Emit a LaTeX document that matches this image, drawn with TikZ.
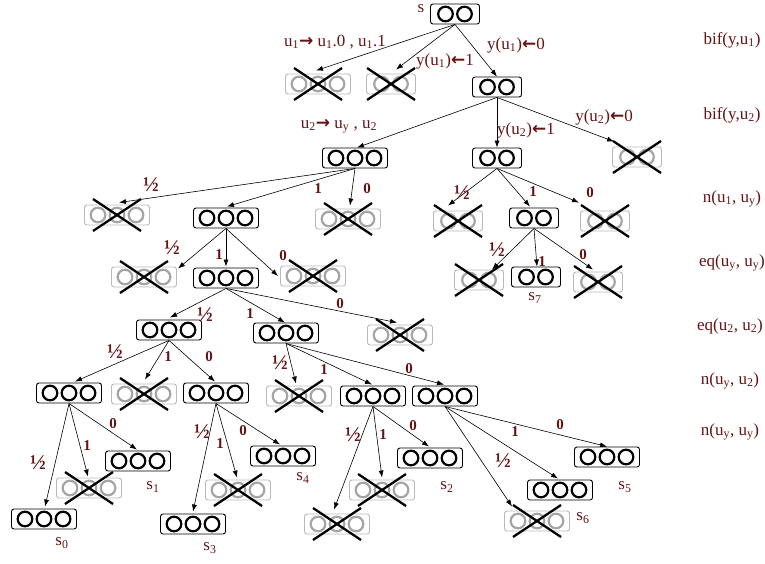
\documentclass[tikz,border=0pt]{standalone}
\usepackage{fontspec}
\setmainfont{Liberation Serif}
\newfontfamily\arrfont{DejaVu Sans}
\usetikzlibrary{arrows.meta,calc}
\definecolor{labred}{RGB}{100,20,20}
\definecolor{boxgray}{RGB}{185,185,185}
\definecolor{ringgray}{RGB}{165,165,165}
\pgfdeclarelayer{bg}
\pgfsetlayers{bg,main}
\tikzset{
  box/.style={rectangle, rounded corners=2.5pt, minimum height=20pt, inner sep=0pt, line width=0.9pt, fill=white},
  box2/.style={box, minimum width=49pt},
  box3/.style={box, minimum width=65pt},
  on/.style={draw=black},
  off/.style={draw=boxgray},
  ringon/.style={line width=2.2pt, draw=black},
  ringoff/.style={line width=2.2pt, draw=ringgray},
  cross/.style={line width=2.3pt, draw=black},
  arr/.style={-{Latex[length=7pt,width=5pt]}, line width=0.6pt},
  lab/.style={text=labred, font=\fontsize{17}{19}\selectfont, inner sep=0pt},
  prob/.style={text=labred, font=\bfseries\fontsize{15}{17}\selectfont, inner sep=0pt},
  half/.style={text=labred, font=\bfseries\fontsize{21}{23}\selectfont, inner sep=0pt},
}
\newcommand\mkst[4]{% name, pos, n, on/off
  \node[box#3,#4] (#1) at (#2) {};
  \ifnum#3=3\relax\def\offs{-19,0,19}\else\def\offs{-9.5,9.5}\fi
  \foreach \dx in \offs {\draw[ring#4] ($(#1.center)+(\dx,0)$) circle[radius=7.3pt];}
}
\newcommand\offst[3]{\mkst{#1}{#2}{#3}{off}%
  \draw[cross] ($(#1.center)+(-24,-16)$) -- ($(#1.center)+(24,16)$)
               ($(#1.center)+(-24,16)$) -- ($(#1.center)+(24,-16)$);}
\newcommand\onst[3]{\mkst{#1}{#2}{#3}{on}}
\newcommand\edge[3]{\draw[arr] (#1.south) -- ($(#2.north)+(#3)$);}
\newcommand\ra{{\arrfont\bfseries →}}
\newcommand\la{{\arrfont\bfseries ←}}
\newcommand\sub[1]{\textsubscript{#1}}
\begin{document}
\begin{tikzpicture}[x=1pt,y=-1pt]
\useasboundingbox (0,0) rectangle (765,563);
% crossed-out states
\offst{nX1}{318,84}{3}
\offst{nX2}{391,84}{2}
\offst{nD}{637,157}{2}
\offst{nE}{117,215}{3}
\offst{nG}{348,219}{3}
\offst{nK}{458,221}{2}
\offst{nM}{605,221}{2}
\offst{nH}{144,277}{3}
\offst{nJ}{313,276}{3}
\offst{nN}{479,280}{2}
\offst{nO}{598,282}{2}
\offst{nR}{400,335}{3}
\offst{nT}{144,394}{3}
\offst{nV}{299,396}{3}
\offst{nY}{89,488}{3}
\offst{nZ}{238,490}{3}
\offst{nAA}{337,524}{3}
\offst{nBB}{382,490}{3}
\offst{nCC}{537,521}{3}
% active states
\onst{nroot}{455,14}{2}
\onst{nA}{497,87}{2}
\onst{nB}{355,158}{3}
\onst{nC}{497,158}{2}
\onst{nF}{226,218}{3}
\onst{nL}{534,218}{2}
\onst{nI}{226,278}{3}
\onst{ns7}{536,277}{2}
\onst{nP}{169,330}{3}
\onst{nQ}{286,333}{3}
\onst{nS}{69,393}{3}
\onst{nU}{216,393}{3}
\onst{nW}{373,396}{3}
\onst{nXX}{445,396}{3}
\onst{ns0}{44,519}{3}
\onst{ns1}{138,461}{3}
\onst{ns3}{193,524}{3}
\onst{ns4}{283,456}{3}
\onst{ns2}{430,458}{3}
\onst{ns6}{560,490}{3}
\onst{ns5}{607,457}{3}
% edges
\begin{pgfonlayer}{bg}
\edge{nroot}{nX1}{-2,-3}
\edge{nroot}{nX2}{5,-4}
\edge{nroot}{nA}{0,0}
\edge{nA}{nB}{2,0}
\edge{nA}{nC}{0,0}
\edge{nA}{nD}{-23,-5}
\edge{nB}{nE}{2,-2}
\edge{nB}{nF}{1,-1}
\edge{nB}{nG}{2,-3}
\edge{nC}{nK}{-10,-5}
\edge{nC}{nL}{-4,-1}
\edge{nC}{nM}{-26,-8}
\edge{nF}{nH}{34,2}
\edge{nF}{nI}{0,-1}
\draw[arr] (nF.south) -- ($(nJ.west)+(-2,0)$);
\edge{nL}{nN}{13,0}
\edge{nL}{ns7}{1,0}
\edge{nL}{nO}{-5,-2}
\edge{nI}{nP}{1,-2}
\edge{nI}{nQ}{-1,0}
\edge{nI}{nR}{-3,-2}
\edge{nP}{nS}{6,-1}
\edge{nP}{nT}{1,-4}
\edge{nP}{nU}{-1,-1}
\edge{nQ}{nV}{-3,-2}
\edge{nQ}{nW}{-1,-1}
\edge{nQ}{nXX}{-1,-1}
\edge{nS}{ns0}{1,-2}
\edge{nS}{nY}{-1,-1}
\edge{nS}{ns1}{-1,-1}
\edge{nU}{ns3}{0,-2}
\edge{nU}{nZ}{-1,-2}
\edge{nU}{ns4}{-3,-1}
\edge{nW}{nAA}{-3,-4}
\edge{nW}{nBB}{0,-2}
\edge{nW}{ns2}{-1,-1}
\edge{nXX}{nCC}{-25,-4}
\edge{nXX}{ns6}{-2,-1}
\edge{nXX}{ns5}{0,0}
\end{pgfonlayer}
% edge labels
\node[lab] (t1) at (335,42) {u\sub{1}\ra{} u\sub{1}.0 , u\sub{1}.1};
\node[lab] (t2) at (445,61) {y(u\sub{1})\la1};
\node[lab] (t3) at (516,45) {y(u\sub{1})\la0};
\node[lab] (t4) at (339,126) {u\sub{2}\ra{} u\sub{y} , u\sub{2}};
\node[lab] (t5) at (526,130) {y(u\sub{2})\la1};
\node[lab] (t6) at (604,117) {y(u\sub{2})\la0};
% probabilities
\node[half] (p1) at (151,185) {½};
\node[prob] (p2) at (318,189) {1};
\node[prob] (p3) at (367,189) {0};
\node[half] (p4) at (172,248) {½};
\node[prob] (p5) at (219,255) {1};
\node[prob] (p6) at (283,256) {0};
\node[half] (p7) at (462,193) {½};
\node[prob] (p8) at (533,192) {1};
\node[prob] (p9) at (590,193) {0};
\node[half] (p10) at (497,250) {½};
\node[prob] (p11) at (542,262) {1};
\node[prob] (p12) at (583,255) {0};
\node[half] (p13) at (205,315) {½};
\node[prob] (p14) at (250,314) {1};
\node[prob] (p15) at (340,304) {0};
\node[half] (p16) at (115,352) {½};
\node[prob] (p17) at (168,357) {1};
\node[prob] (p18) at (209,357) {0};
\node[half] (p19) at (280,363) {½};
\node[prob] (p20) at (324,370) {1};
\node[prob] (p21) at (409,369) {0};
\node[half] (p22) at (38,463) {½};
\node[prob] (p23) at (87,446) {1};
\node[prob] (p24) at (113,424) {0};
\node[half] (p25) at (202,432) {½};
\node[prob] (p26) at (220,444) {1};
\node[prob] (p27) at (243,431) {0};
\node[half] (p28) at (353,435) {½};
\node[prob] (p29) at (383,435) {1};
\node[prob] (p30) at (413,426) {0};
\node[half] (p31) at (503,461) {½};
\node[prob] (p32) at (515,432) {1};
\node[prob] (p33) at (560,425) {0};
% state names
\node[lab] (ls) at (421,9) {s};
\node[lab] (l0) at (62,543) {s\sub{0}};
\node[lab] (l1) at (153,487) {s\sub{1}};
\node[lab] (l2) at (447,487) {s\sub{2}};
\node[lab] (l3) at (210,548) {s\sub{3}};
\node[lab] (l4) at (303,478) {s\sub{4}};
\node[lab] (l5) at (625,487) {s\sub{5}};
\node[lab] (l6) at (583,518) {s\sub{6}};
\node[lab] (l7) at (535,298) {s\sub{7}};
% right column
\node[lab] (r1) at (732,40) {bif(y,u\sub{1})};
\node[lab] (r2) at (732,115) {bif(y,u\sub{2})};
\node[lab] (r3) at (732,199) {n(u\sub{1}, u\sub{y})};
\node[lab] (r4) at (732,263) {eq(u\sub{y}, u\sub{y})};
\node[lab] (r5) at (730,326) {eq(u\sub{2}, u\sub{2})};
\node[lab] (r6) at (730,381) {n(u\sub{y}, u\sub{2})};
\node[lab] (r7) at (730,432) {n(u\sub{y}, u\sub{y})};
\end{tikzpicture}
\end{document}
